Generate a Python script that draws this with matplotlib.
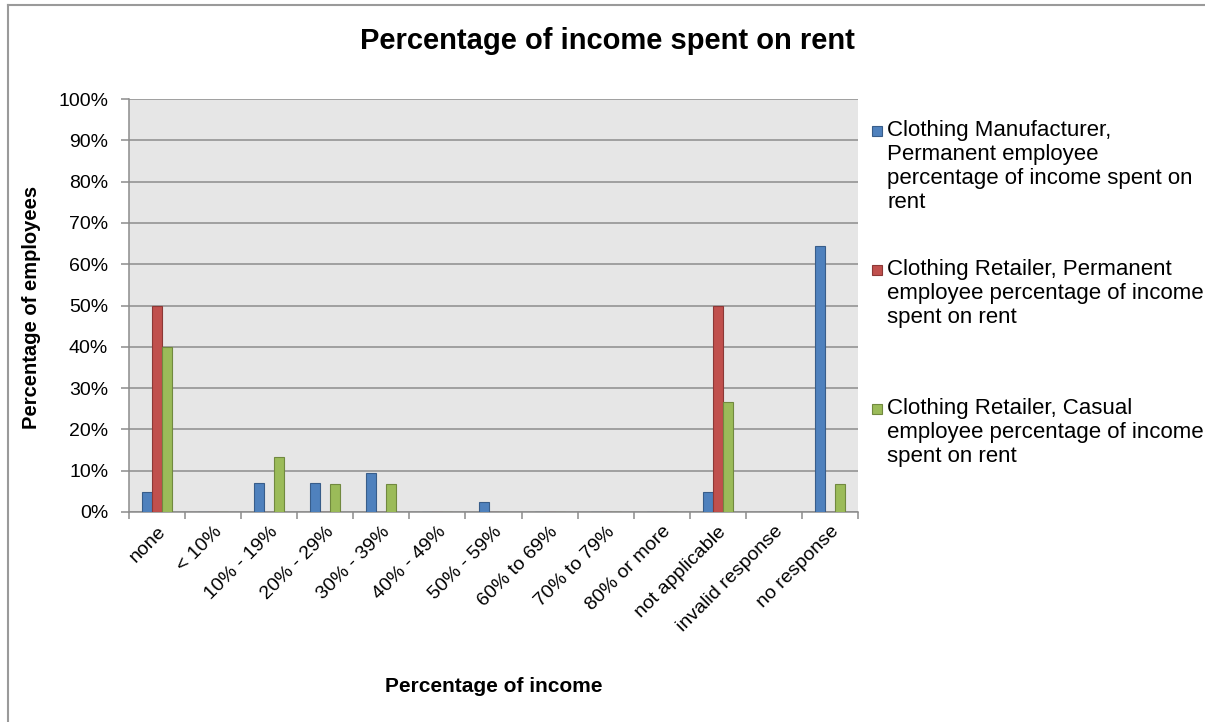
import numpy as np
import matplotlib
matplotlib.use("Agg")
import matplotlib.pyplot as plt
from matplotlib.patches import Rectangle
from matplotlib.lines import Line2D

plt.rcParams['font.family'] = ['Liberation Sans', 'DejaVu Sans']

categories = ["none", "< 10%", "10% - 19%", "20% - 29%", "30% - 39%", "40% - 49%",
              "50% - 59%", "60% to 69%", "70% to 79%", "80% or more",
              "not applicable", "invalid response", "no response"]

# share of employees in each band (percent)
manufacturer_perm = [4.76, 0, 7.14, 7.14, 9.52, 0, 2.38, 0, 0, 0, 4.76, 0, 64.29]
retailer_perm = [50.0, 0, 0, 0, 0, 0, 0, 0, 0, 0, 50.0, 0, 0]
retailer_casual = [40.0, 0, 13.33, 6.67, 6.67, 0, 0, 0, 0, 0, 26.67, 0, 6.67]

series_labels = [
    "Clothing Manufacturer,\nPermanent employee\npercentage of income spent on\nrent",
    "Clothing Retailer, Permanent\nemployee percentage of income\nspent on rent",
    "Clothing Retailer, Casual\nemployee percentage of income\nspent on rent",
]
y_ticks = [0, 10, 20, 30, 40, 50, 60, 70, 80, 90, 100]

fills = ["#4F81BD", "#C0504D", "#9BBB59"]
edges = ["#385D8A", "#8C3836", "#71893F"]

W, H = 1205, 722
fig = plt.figure(figsize=(W / 100, H / 100), dpi=100)

# chart frame
fig.add_artist(Line2D([8 / W, 8 / W], [0, 1 - 5 / H], transform=fig.transFigure,
                      color="#9a9a9a", lw=1.5))
fig.add_artist(Line2D([8 / W, 1], [1 - 5 / H, 1 - 5 / H], transform=fig.transFigure,
                      color="#9a9a9a", lw=1.5))

x0, x1, ytop, ybot = 129, 858, 99, 512
ax = fig.add_axes([x0 / W, 1 - ybot / H, (x1 - x0) / W, (ybot - ytop) / H])
ax.set_facecolor("#E6E6E6")

n = len(categories)
x = np.arange(n)
bw = 0.178
for i, vals in enumerate([manufacturer_perm, retailer_perm, retailer_casual]):
    ax.bar(x + (i - 1) * bw, vals, width=bw, color=fills[i], edgecolor=edges[i],
           linewidth=0.8, zorder=3)

ax.set_xlim(-0.5, n - 0.5)
ax.set_ylim(0, 100)
ax.set_yticks(y_ticks)
ax.set_yticklabels([f"{v}%" for v in y_ticks], fontsize=14)
ax.yaxis.grid(True, color="#8c8c8c", lw=1.1, zorder=1)
ax.set_axisbelow(True)

ax.set_xticks(np.arange(-0.5, n, 1.0))
ax.set_xticklabels([])
ax.set_xticks(x, minor=True)
ax.set_xticklabels(categories, minor=True, rotation=45, ha="right",
                   rotation_mode="anchor", fontsize=14)
ax.tick_params(axis="x", which="minor", length=0, pad=8)
ax.tick_params(axis="x", which="major", length=5, color="#8c8c8c", width=1.1)
ax.tick_params(axis="y", length=5.5, color="#8c8c8c", width=1.1, pad=9.5)

for s in ["top", "right"]:
    ax.spines[s].set_visible(False)
for s in ["left", "bottom"]:
    ax.spines[s].set_color("#8c8c8c")
    ax.spines[s].set_linewidth(1.1)

fig.text(607 / W, 1 - 41 / H, "Percentage of income spent on rent", ha="center",
         va="center", fontsize=21, fontweight="bold")
fig.text(32 / W, 1 - 307 / H, "Percentage of employees", rotation=90, ha="center",
         va="center", fontsize=14.5, fontweight="bold")
fig.text(494 / W, 1 - 686 / H, "Percentage of income", ha="center", va="center",
         fontsize=15, fontweight="bold")

# legend entries
legend_tops = [120, 259, 398]
for i, (lab, top) in enumerate(zip(series_labels, legend_tops)):
    fig.add_artist(Rectangle((872 / W, 1 - (top + 16) / H), 10 / W, 10 / H,
                             transform=fig.transFigure, facecolor=fills[i],
                             edgecolor=edges[i], lw=0.8))
    fig.text(887 / W, 1 - top / H, lab, ha="left", va="top", fontsize=16,
             linespacing=1.18)

fig.savefig("out.png", dpi=100)
